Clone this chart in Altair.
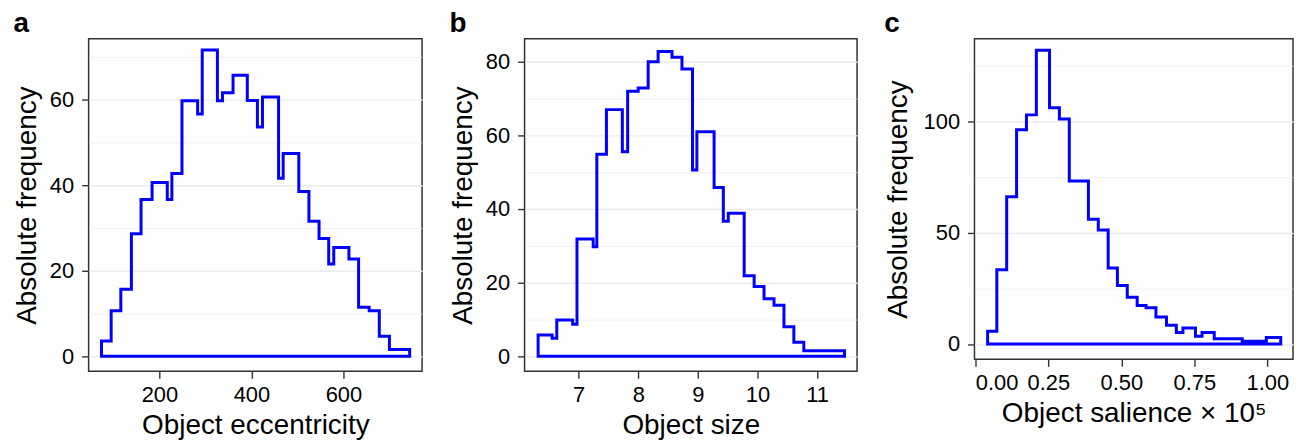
import altair as alt
import pandas as pd

FONT = "Liberation Sans"

# ---- Panel a: Object eccentricity ----
ecc_edges = [74, 95, 116, 139, 160, 184, 217, 227, 249, 283, 293, 326, 337, 360, 391, 413,
             424, 459, 469, 503, 525, 547, 568, 579, 612, 633, 656, 678, 700, 744]
ecc_counts = [3.6, 10.7, 15.7, 28.7, 36.7, 40.7, 36.7, 42.8, 59.8, 56.7, 71.7, 59.8, 61.7,
              65.8, 59.9, 53.7, 60.7, 41.7, 47.5, 38.6, 31.6, 27.6, 21.6, 25.5, 22.8, 11.5,
              10.7, 4.7, 1.6]
ecc_ticks = [200, 400, 600]
ecc_y_major = [0, 20, 40, 60]
ecc_y_minor = [10, 30, 50, 70]

# ---- Panel b: Object size ----
size_edges = [6.32, 6.555, 6.633, 6.9, 6.972, 7.244, 7.305, 7.466, 7.733, 7.822, 7.999, 8.166,
              8.333, 8.566, 8.733, 8.910, 8.983, 9.272, 9.427, 9.51, 9.777, 9.944, 10.11,
              10.277, 10.444, 10.61, 10.777, 11.46]
size_counts = [5.75, 4.9, 9.8, 8.7, 31.8, 29.7, 54.8, 66.9, 55.5, 71.9, 72.8, 79.9, 82.7,
               81.1, 77.9, 50.5, 60.9, 45.8, 36.6, 38.8, 21.8, 18.9, 15.6, 13.8, 8.0, 3.8, 1.5]
size_ticks = [7, 8, 9, 10, 11]
size_y_major = [0, 20, 40, 60, 80]
size_y_minor = [10, 30, 50, 70]

# ---- Panel c: Object salience x 10^5 ----
sal_edges = [0.042, 0.0735, 0.1073, 0.1412, 0.175, 0.2089, 0.254, 0.2878, 0.3217, 0.3872,
             0.421, 0.4549, 0.4865, 0.5203, 0.5542, 0.5846, 0.6185, 0.6546, 0.6884, 0.711,
             0.7539, 0.7765, 0.8182, 0.9141, 0.9965, 1.046]
sal_counts = [5.8, 33.4, 66.3, 96.4, 103.1, 132.2, 106.3, 101.2, 73.3, 56.1, 51.3, 34.2, 26.3,
              21.0, 17.3, 16.3, 12.2, 8.4, 5.2, 7.2, 3.5, 5.2, 2.4, 1.2, 2.9]
sal_ticks = [0.0, 0.25, 0.5, 0.75, 1.0]
sal_y_major = [0, 50, 100]
sal_y_minor = [25, 75, 125]


def outline(edges, counts):
    xs, ys = [edges[0]], [0]
    for i, c in enumerate(counts):
        xs += [edges[i], edges[i + 1]]
        ys += [c, c]
    xs += [edges[-1], edges[0]]
    ys += [0, 0]
    return pd.DataFrame({"x": xs, "y": ys, "o": list(range(len(xs)))})


def panel(edges, counts, letter, xtitle, xdom, xticks, xfmt, ydom, ymajor, yminor, w, h, tpad):
    df = outline(edges, counts)
    base = alt.Chart(df)
    yscale = alt.Scale(domain=ydom, nice=False, zero=False)
    line = base.mark_line(color="#0000FF", strokeWidth=3, strokeJoin="miter",
                          strokeCap="square").encode(
        x=alt.X("x:Q", scale=alt.Scale(domain=xdom, nice=False, zero=False),
                axis=alt.Axis(values=xticks, format=xfmt, title=xtitle, grid=False)),
        y=alt.Y("y:Q", scale=yscale,
                axis=alt.Axis(values=ymajor, title="Absolute frequency", grid=True,
                              gridWidth=1.4, titlePadding=tpad, orient="left")),
        order=alt.Order("o:Q"),
    )
    minor = base.mark_point(opacity=0).encode(
        y=alt.Y("y:Q", scale=yscale,
                axis=alt.Axis(values=yminor, grid=True, gridWidth=0.7, labels=False,
                              ticks=False, domain=False, title=None, orient="right"))
    )
    return alt.layer(line, minor).resolve_axis(y="independent").properties(
        width=w, height=h,
        title=alt.TitleParams(letter, anchor="start", frame="bounds", fontSize=28,
                              fontWeight="bold", font=FONT, baseline="alphabetic",
                              offset=-21, color="black"),
    )


a = panel(ecc_edges, ecc_counts, "a", "Object eccentricity", [46, 771], ecc_ticks, "d",
          [-3.5, 74.3], ecc_y_major, ecc_y_minor, 335, 334, 8)
b = panel(size_edges, size_counts, "b", "Object size", [6.093, 11.67], size_ticks, "d",
          [-4.1, 86.1], size_y_major, size_y_minor, 334, 334, 8)
c = panel(sal_edges, sal_counts, "c", "Object salience \u00d7 10\u2075", [-0.003, 1.088],
          sal_ticks, ".2f", [-6.9, 137.3], sal_y_major, sal_y_minor, 320, 322, 11)

chart = alt.hconcat(a, b, c, spacing=25).configure(
    font=FONT,
    padding={"left": 4, "top": 0, "right": 0, "bottom": 0},
).configure_view(
    stroke="#333333", strokeWidth=1.5
).configure_axis(
    labelFont=FONT, titleFont=FONT, labelFontSize=22, titleFontSize=28,
    labelColor="black", titleColor="black", titleFontWeight="normal",
    tickColor="#333333", tickWidth=1.4, tickSize=7, domain=False,
    gridColor="#EBEBEB",
).configure_axisX(
    labelPadding=6, titlePadding=6
).configure_axisY(
    labelPadding=8
)

chart.save("out.html", embed_options={"renderer": "svg", "actions": False})
